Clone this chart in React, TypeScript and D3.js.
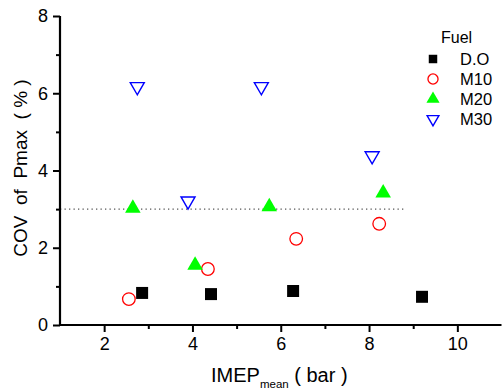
import { useEffect, useRef } from 'react';
import * as d3 from 'd3';

/**
 * COV of Pmax vs IMEP scatter
 */

const seriesNames = ['D.O', 'M10', 'M20', 'M30'];

const doX = [2.86, 4.42, 6.28, 9.2];
const doY = [0.83, 0.8, 0.88, 0.73];

const m10X = [2.56, 4.35, 6.35, 8.23];
const m10Y = [0.67, 1.45, 2.23, 2.62];

const m20X = [2.65, 4.06, 5.74, 8.32];
const m20Y = [3.02, 1.55, 3.06, 3.42];

const m30X = [2.75, 3.9, 5.56, 8.07];
const m30Y = [6.17, 3.21, 6.17, 4.38];

const xMajorTicks = [2, 4, 6, 8, 10];
const xMinorTicks = [3, 5, 7, 9];
const yMajorTicks = [0, 2, 4, 6, 8];
const yMinorTicks = [1, 3, 5, 7];

const refLineY = 3;
const refLineX = [1, 8.8];

const FONT = 'Arial, "Liberation Sans", sans-serif';

export default function App() {
  const svgRef = useRef<SVGSVGElement>(null);

  useEffect(() => {
    if (!svgRef.current) return;

    const width = 502;
    const height = 390;

    const svg = d3.select(svgRef.current);
    svg.selectAll('*').remove();
    svg.attr('width', width).attr('height', height);

    svg.append('rect').attr('width', width).attr('height', height).attr('fill', '#fff');

    const xScale = d3.scaleLinear().domain([1, 11]).range([60, 501.5]);
    const yScale = d3.scaleLinear().domain([0, 8]).range([325, 16]);

    // Dotted reference line
    svg
      .append('line')
      .attr('x1', xScale(refLineX[0]))
      .attr('x2', xScale(refLineX[1]))
      .attr('y1', yScale(refLineY))
      .attr('y2', yScale(refLineY))
      .attr('stroke', '#555')
      .attr('stroke-width', 1.3)
      .attr('stroke-dasharray', '1.3,3.2');

    // Axes
    const xAxis = svg.append('g').attr('transform', `translate(0,${yScale(0)})`);
    xAxis
      .call(
        d3.axisBottom(xScale).tickValues(xMajorTicks).tickSize(7).tickPadding(5).tickFormat(d3.format('d'))
      )
      .call((g) => g.select('.domain').remove());
    xAxis
      .append('g')
      .call(d3.axisBottom(xScale).tickValues(xMinorTicks).tickSize(4).tickFormat(() => ''))
      .call((g) => g.select('.domain').remove());
    xAxis
      .append('line')
      .attr('x1', xScale(1) - 1)
      .attr('x2', xScale(11))
      .attr('stroke', '#000')
      .attr('stroke-width', 2.2);

    const yAxis = svg.append('g').attr('transform', `translate(${xScale(1)},0)`);
    yAxis
      .call(
        d3.axisLeft(yScale).tickValues(yMajorTicks).tickSize(7).tickPadding(5).tickFormat(d3.format('d'))
      )
      .call((g) => g.select('.domain').remove());
    yAxis
      .append('g')
      .call(d3.axisLeft(yScale).tickValues(yMinorTicks).tickSize(4).tickFormat(() => ''))
      .call((g) => g.select('.domain').remove());
    yAxis
      .append('line')
      .attr('y1', yScale(8))
      .attr('y2', yScale(0) + 1)
      .attr('stroke', '#000')
      .attr('stroke-width', 2.2);

    svg
      .selectAll('.tick line')
      .attr('stroke', '#000')
      .attr('stroke-width', 2);
    svg
      .selectAll('.tick text')
      .attr('fill', '#000')
      .attr('font-family', FONT)
      .attr('font-size', '18px');

    // Axis labels
    const xLabel = svg
      .append('text')
      .attr('x', 211)
      .attr('y', 382)
      .attr('font-family', FONT)
      .attr('font-size', '20px')
      .attr('fill', '#000');
    xLabel.append('tspan').text('IMEP');
    xLabel.append('tspan').attr('font-size', '11.5px').attr('dy', 6).text('mean');
    xLabel.append('tspan').attr('dy', -6).text(' ( bar )');

    svg
      .append('text')
      .attr('transform', `translate(27,168) rotate(-90)`)
      .attr('text-anchor', 'middle')
      .attr('font-family', FONT)
      .attr('font-size', '19px')
      .attr('fill', '#000')
      .attr('xml:space', 'preserve')
      .text('COV  of  Pmax  ( % )');

    // Marker drawers
    const square = d3.symbol(d3.symbolSquare, 144);
    const circle = d3.symbol(d3.symbolCircle, 125);
    const triUp = d3.symbol(d3.symbolTriangle, 105);
    const triDown = d3.symbol(d3.symbolTriangle, 85);

    const styles = [
      { path: square(), fill: '#000', stroke: 'none', sw: 0, rot: 0 },
      { path: circle(), fill: 'none', stroke: '#ff0000', sw: 1.3, rot: 0 },
      { path: triUp(), fill: '#00ff00', stroke: 'none', sw: 0, rot: 0 },
      { path: triDown(), fill: 'none', stroke: '#0000ff', sw: 1.4, rot: 180 },
    ];

    const series = [
      { xs: doX, ys: doY },
      { xs: m10X, ys: m10Y },
      { xs: m20X, ys: m20Y },
      { xs: m30X, ys: m30Y },
    ];

    series.forEach((s, i) => {
      const st = styles[i];
      svg
        .append('g')
        .selectAll('path')
        .data(s.xs.map((x, j) => [x, s.ys[j]]))
        .enter()
        .append('path')
        .attr('d', st.path)
        .attr('transform', (d) => `translate(${xScale(d[0])},${yScale(d[1])}) rotate(${st.rot})`)
        .attr('fill', st.fill)
        .attr('stroke', st.stroke)
        .attr('stroke-width', st.sw);
    });

    // Legend
    const legend = svg.append('g').attr('transform', 'translate(433,0)');
    legend
      .append('text')
      .attr('x', 8)
      .attr('y', 43)
      .attr('font-family', FONT)
      .attr('font-size', '16px')
      .attr('fill', '#000')
      .text('Fuel');

    const legendSym = [
      d3.symbol(d3.symbolSquare, 72)(),
      d3.symbol(d3.symbolCircle, 80)(),
      d3.symbol(d3.symbolTriangle, 75)(),
      d3.symbol(d3.symbolTriangle, 60)(),
    ];

    seriesNames.forEach((name, i) => {
      const cy = 59 + i * 20;
      const st = styles[i];
      legend
        .append('path')
        .attr('d', legendSym[i])
        .attr('transform', `translate(0,${cy}) rotate(${st.rot})`)
        .attr('fill', st.fill)
        .attr('stroke', st.stroke)
        .attr('stroke-width', st.sw);
      legend
        .append('text')
        .attr('x', 27)
        .attr('y', cy)
        .attr('dy', '0.36em')
        .attr('font-family', FONT)
        .attr('font-size', '16.5px')
        .attr('fill', '#000')
        .text(name);
    });
  }, []);

  return (
    <div style={{ position: 'absolute', left: 0, top: 0 }}>
      <svg ref={svgRef} style={{ display: 'block' }} />
    </div>
  );
}
